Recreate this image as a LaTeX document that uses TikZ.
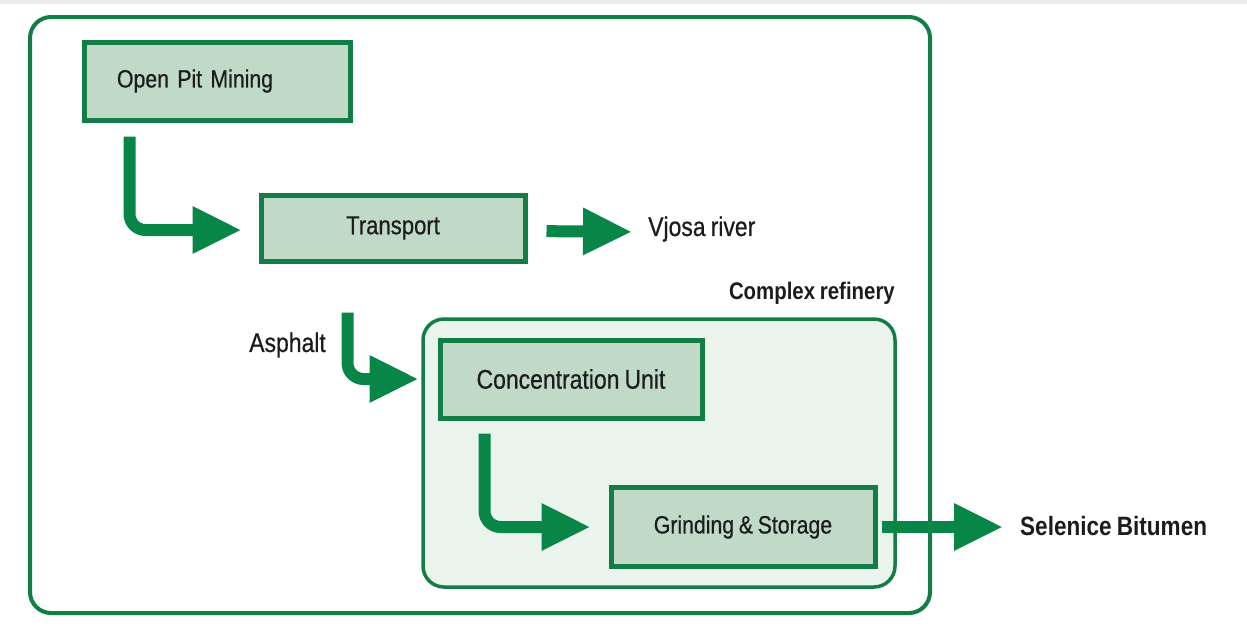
\documentclass[tikz,border=0pt]{standalone}
\usepackage{fontspec}
\setmainfont{Liberation Sans}
\newfontfamily\narrowsans[FakeStretch=0.85,FakeBold=0.6,WordSpace=0.8]{Liberation Sans}
\newfontfamily\narrowbold[FakeStretch=0.85,WordSpace=0.85,BoldFont={Liberation Sans Bold},UprightFont={Liberation Sans Bold}]{Liberation Sans}
\usetikzlibrary{arrows.meta,calc}

\definecolor{edgegreen}{RGB}{18,126,70}
\definecolor{flowgreen}{RGB}{8,134,72}
\definecolor{boxfill}{RGB}{193,218,199}
\definecolor{zonefill}{RGB}{234,243,236}
\definecolor{inkdark}{RGB}{28,28,28}
\definecolor{stripgray}{RGB}{236,236,234}

\tikzset{
  stagebox/.style={draw=edgegreen, line width=5pt, fill=boxfill, rectangle,
    minimum width=264pt, minimum height=78pt, inner sep=0pt,
    text=inkdark, font=\narrowsans\fontsize{26pt}{30pt}\selectfont},
  frame/.style={draw=edgegreen, line width=4pt, rectangle, rounded corners=21pt, inner sep=0pt},
  flow/.style={draw=flowgreen, line width=12pt, rounded corners=16pt,
    -{Triangle[length=49pt,width=44pt]}},
  caption/.style={text=inkdark, inner sep=0pt, font=\narrowsans\fontsize{26pt}{30pt}\selectfont},
  boldcaption/.style={text=inkdark, inner sep=0pt, font=\narrowbold\fontsize{24pt}{28pt}\selectfont}
}

\begin{document}
\begin{tikzpicture}[x=1pt,y=-1pt]
  \useasboundingbox (0,0) rectangle (1247,638);
  \fill[white] (0,0) rectangle (1247,638);
  \fill[stripgray] (0,0) rectangle (1247,4);

  % site boundary and refinery zone
  \node[frame, fill=white, minimum width=900pt, minimum height=596pt] (site) at (480,315) {};
  \node[frame, fill=zonefill, line width=3.5pt, minimum width=472pt, minimum height=268pt] (refinery) at (659,453) {};

  % process stages
  \node[stagebox, minimum width=266pt, text width=200pt, align=left, inner xsep=33pt,
        font=\narrowsans\fontsize{25pt}{30pt}\selectfont] (mine) at (217,81) {Open Pit Mining};
  \node[stagebox, minimum height=66pt] (transport) at (393,228) {Transport};
  \node[stagebox, minimum width=262pt, font=\narrowsans\fontsize{27pt}{30pt}\selectfont] (conc) at (571,379) {Concentration Unit};
  \node[stagebox, minimum width=264pt, minimum height=79pt, font=\narrowsans\fontsize{25pt}{30pt}\selectfont] (grind) at (743,527) {Grinding \& Storage};

  % labels
  \node[caption, anchor=west, font=\narrowsans\fontsize{27pt}{30pt}\selectfont] (vjosa) at (648,229) {Vjosa river};
  \node[caption, anchor=east, font=\narrowsans\fontsize{27pt}{30pt}\selectfont] (asphalt) at (326,345) {Asphalt};
  \node[boldcaption, anchor=east] (cplx) at (895,293) {Complex refinery};
  \node[boldcaption, font=\narrowbold\fontsize{26.5pt}{30pt}\selectfont, anchor=west] (bitumen) at (1020,526) {Selenice Bitumen};

  % flows
  \coordinate (m0) at ([xshift=48pt,yshift=-14pt]mine.south west);
  \draw[flow, shorten >=17pt] (m0) |- ([yshift=-2pt]transport.west);
  \draw[flow, shorten <=19pt, shorten >=16pt] ([yshift=-3pt]transport.east) -- ([yshift=-3pt]vjosa.west);
  \coordinate (t0) at ([xshift=89pt,yshift=-49pt]transport.south west);
  \draw[flow, shorten >=19pt] (t0) |- (conc.west);
  \coordinate (c0) at ([xshift=47pt,yshift=-13pt]conc.south west);
  \draw[flow, shorten >=18pt] (c0) |- (grind.west);
  \draw[flow, shorten <=4pt, shorten >=17pt] (grind.east) -- (grind.east -| bitumen.west);
\end{tikzpicture}
\end{document}
